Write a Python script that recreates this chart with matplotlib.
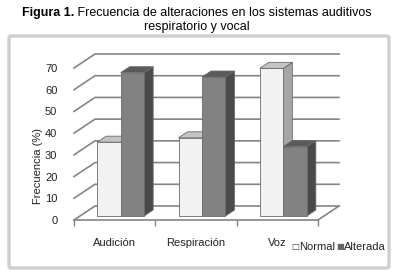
import matplotlib.pyplot as plt
from matplotlib.patches import Polygon, FancyBboxPatch

plt.rcParams['font.family'] = ['Liberation Sans', 'DejaVu Sans']

# Datos
categorias = ['Audición', 'Respiración', 'Voz']
normal = [34, 36, 68]
alterada = [66, 64, 32]
series = ['Normal', 'Alterada']
ticks_y = [0, 10, 20, 30, 40, 50, 60, 70]

# Colores (cara frontal, superior, lateral)
col_normal = ('#f2f2f2', '#c4c4c4', '#a6a6a6')
col_alterada = ('#828282', '#5a5a5a', '#4a4a4a')
col_grid = '#858585'

W, H = 394, 278
fig = plt.figure(figsize=(W / 100, H / 100), dpi=100)
ax = fig.add_axes([74 / W, 58 / H, 244 / W, 152 / H])
ax.set_xlim(-0.5, 2.5)
ax.set_ylim(0, 70)

# conversion pixel -> datos
px_x = 3 / 244
px_y = 70 / 152
prof_x, prof_y = 21 * px_x, 14 * px_y      # profundidad total
bar_ox, bar_oy = 6 * px_x, 4 * px_y        # posicion de las barras
bar_dx, bar_dy = 9 * px_x, 6 * px_y        # profundidad de barra
ancho = 23.5 * px_x

# Rejilla: pared izquierda (oblicuas) y pared del fondo
for v in ticks_y:
    ax.plot([-0.5, -0.5 + prof_x, 2.5 + prof_x], [v, v + prof_y, v + prof_y],
            color=col_grid, lw=1.2, clip_on=False, zorder=1)
# Suelo
ax.plot([2.5, 2.5 + prof_x], [0, prof_y], color=col_grid, lw=1.2, clip_on=False, zorder=1)
ax.plot([-0.5, 2.5], [0, 0], color=col_grid, lw=1.2, clip_on=False, zorder=1)


def barra(x0, valor, colores):
    x1 = x0 + ancho
    y0 = bar_oy
    y1 = valor + bar_oy
    front = Polygon([(x0, y0), (x1, y0), (x1, y1), (x0, y1)], closed=True,
                    facecolor=colores[0], edgecolor='#6a6a6a', lw=0.6, zorder=3, clip_on=False)
    top = Polygon([(x0, y1), (x1, y1), (x1 + bar_dx, y1 + bar_dy), (x0 + bar_dx, y1 + bar_dy)],
                  closed=True, facecolor=colores[1], edgecolor='#6a6a6a', lw=0.6, zorder=3, clip_on=False)
    side = Polygon([(x1, y0), (x1 + bar_dx, y0 + bar_dy), (x1 + bar_dx, y1 + bar_dy), (x1, y1)],
                   closed=True, facecolor=colores[2], edgecolor='#6a6a6a', lw=0.6, zorder=3, clip_on=False)
    for p in (side, top, front):
        ax.add_patch(p)


for i in range(len(categorias)):
    centro = i + bar_ox
    barra(centro - ancho, normal[i], col_normal)
    barra(centro, alterada[i], col_alterada)

for s in ax.spines.values():
    s.set_visible(False)

ax.set_yticks(ticks_y)
ax.tick_params(axis='y', length=0, pad=12, labelsize=8, colors='#222222')
ax.set_xticks([0, 1, 2])
ax.set_xticklabels(categorias)
ax.set_xticks([-0.5, 0.5, 1.5, 2.5], minor=True)
ax.tick_params(axis='x', which='major', length=0, pad=13, labelsize=8, colors='#222222')
ax.tick_params(axis='x', which='minor', length=4, color=col_grid, width=1)
ax.patch.set_alpha(0)

fig.text(38 / W, 1 - 166 / H, 'Frecuencia (%)', rotation=90, ha='center', va='center',
         fontsize=8, color='#222222')

# Leyenda
fig.text(291 / W, 1 - 247 / H, '□', fontsize=6, va='center', ha='left', color='#444444',
         family=['DejaVu Sans'])
fig.text(299 / W, 1 - 247 / H, series[0], fontsize=8, va='center', ha='left', color='#222222')
fig.text(336 / W, 1 - 247 / H, '■', fontsize=6, va='center', ha='left', color='#666666',
         family=['DejaVu Sans'])
fig.text(344 / W, 1 - 247 / H, series[1], fontsize=8, va='center', ha='left', color='#222222')

# Marco
marco = FancyBboxPatch((9 / W, 1 - 268 / H), 380 / W, 232 / H,
                       boxstyle='round,pad=0,rounding_size=0.006', transform=fig.transFigure,
                       facecolor='none', edgecolor='#cfcfcf', lw=2.4)
fig.patches.append(marco)

# Titulo (parte en negrita + parte normal)
renderer = fig.canvas.get_renderer()
t1 = fig.text(0, 1 - 13 / H, 'Figura 1.', fontsize=9, fontweight='bold', va='center', ha='left')
t2 = fig.text(0, 1 - 13 / H, ' Frecuencia de alteraciones en los sistemas auditivos',
              fontsize=9, va='center', ha='left')
w1 = t1.get_window_extent(renderer).width
w2 = t2.get_window_extent(renderer).width
x0 = (W / 2 - (w1 + w2) / 2) / W
t1.set_x(x0)
t2.set_x(x0 + w1 / W)
fig.text(0.5, 1 - 27 / H, 'respiratorio y vocal', fontsize=9, va='center', ha='center')

fig.savefig('out.png', dpi=100)
